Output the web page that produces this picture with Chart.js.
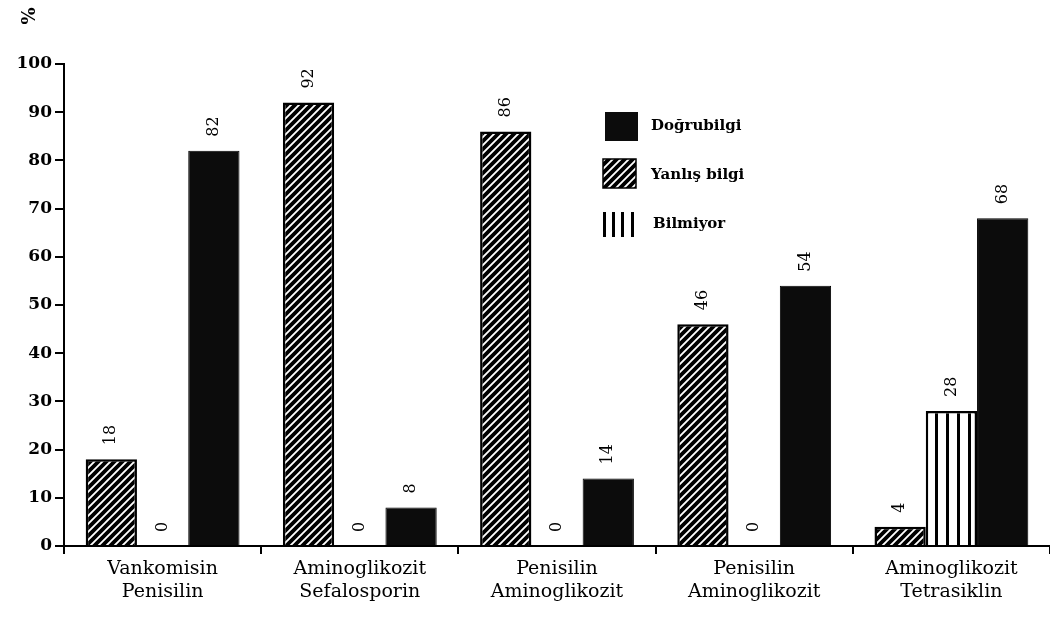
<!DOCTYPE html>
<html>
<head>
<meta charset="utf-8">
<script src="https://cdn.jsdelivr.net/npm/chart.js@4/dist/chart.umd.min.js"></script>
<style>
  html, body { margin: 0; padding: 0; background: #fff; }
  #wrap { width: 1050px; height: 625px; }
</style>
</head>
<body>
<div id="wrap"><canvas id="barChart" width="1050" height="625"></canvas></div>
<script>
// data
const categories = [
    ['Vankomisin', 'Penisilin'],
    ['Aminoglikozit', 'Sefalosporin'],
    ['Penisilin', 'Aminoglikozit'],
    ['Penisilin', 'Aminoglikozit'],
    ['Aminoglikozit', 'Tetrasiklin']
];
const yanlisBilgi = [18, 92, 86, 46, 4];
const bilmiyor = [0, 0, 0, 0, 28];
const dogruBilgi = [82, 8, 14, 54, 68];
const yTicks = [0, 10, 20, 30, 40, 50, 60, 70, 80, 90, 100];

const SERIF = '"DejaVu Serif", "Liberation Serif", serif';

function makePattern(w, h, draw) {
    const c = document.createElement('canvas');
    c.width = w;
    c.height = h;
    const g = c.getContext('2d');
    g.fillStyle = '#fff';
    g.fillRect(0, 0, w, h);
    draw(g);
    return g.createPattern(c, 'repeat');
}

// mostly black with thin white diagonal stripes
const hatch = makePattern(8, 8, g => {
    g.strokeStyle = '#000';
    g.lineWidth = 3.8;
    g.beginPath();
    g.moveTo(-1, 9); g.lineTo(9, -1);
    g.moveTo(-5, 5); g.lineTo(5, -5);
    g.moveTo(3, 13); g.lineTo(13, 3);
    g.stroke();
});
const vlines = makePattern(11, 4, g => {
    g.fillStyle = '#000';
    g.fillRect(0, 0, 3, 4);
});
const solid = '#0c0c0c';

// rotated value labels above every bar
const valueLabels = {
    id: 'valueLabels',
    afterDatasetsDraw(chart) {
        const ctx = chart.ctx;
        ctx.save();
        ctx.fillStyle = '#000';
        ctx.font = '16px ' + SERIF;
        ctx.textAlign = 'left';
        ctx.textBaseline = 'middle';
        chart.data.datasets.forEach((ds, i) => {
            const meta = chart.getDatasetMeta(i);
            meta.data.forEach((bar, j) => {
                ctx.save();
                ctx.translate(bar.x, bar.y - 14);
                ctx.rotate(-Math.PI / 2);
                ctx.fillText(String(ds.data[j]), 0, 0);
                ctx.restore();
            });
        });
        ctx.restore();
    }
};

// legend drawn inside the plot, plus the % unit mark
const sideLegend = {
    id: 'sideLegend',
    afterDraw(chart) {
        const ctx = chart.ctx;
        ctx.save();
        ctx.font = 'bold 15px ' + SERIF;
        ctx.textAlign = 'left';
        ctx.textBaseline = 'middle';

        ctx.fillStyle = solid;
        ctx.fillRect(605, 112, 33, 29);
        ctx.fillStyle = '#000';
        ctx.fillText('Doğrubilgi', 651, 126);

        ctx.fillStyle = hatch;
        ctx.fillRect(603, 159, 33, 29);
        ctx.strokeStyle = '#000';
        ctx.lineWidth = 1.5;
        ctx.strokeRect(603, 159, 33, 29);
        ctx.fillStyle = '#000';
        ctx.fillText('Yanlış bilgi', 651, 175);

        [603, 612, 621, 631].forEach(x => ctx.fillRect(x, 212, 3, 25));
        ctx.fillText('Bilmiyor', 653, 224);

        ctx.translate(30, 16);
        ctx.rotate(-Math.PI / 2);
        ctx.font = 'bold 18px ' + SERIF;
        ctx.textAlign = 'center';
        ctx.fillText('%', 0, 0);
        ctx.restore();
    }
};

document.addEventListener('DOMContentLoaded', function() {
    const barCtx = document.getElementById('barChart').getContext('2d');

    new Chart(barCtx, {
        type: 'bar',
        data: {
            labels: categories,
            datasets: [{
                label: 'Yanlış bilgi',
                data: yanlisBilgi,
                backgroundColor: hatch,
                borderColor: '#000',
                borderWidth: 2.5
            }, {
                label: 'Bilmiyor',
                data: bilmiyor,
                backgroundColor: vlines,
                borderColor: '#000',
                borderWidth: 2.5
            }, {
                label: 'Doğrubilgi',
                data: dogruBilgi,
                backgroundColor: solid,
                borderColor: '#000',
                borderWidth: 1
            }]
        },
        options: {
            responsive: false,
            animation: false,
            layout: { padding: { top: 64, right: 0, left: 0, bottom: 0 } },
            datasets: {
                bar: { barPercentage: 1.0, categoryPercentage: 0.78 }
            },
            scales: {
                x: {
                    offset: true,
                    grid: { offset: true, drawOnChartArea: false, color: '#000', lineWidth: 2, tickLength: 8 },
                    border: { color: '#000', width: 2 },
                    ticks: {
                        color: '#000',
                        font: { family: SERIF, size: 19 },
                        padding: 4,
                        maxRotation: 0,
                        autoSkip: false
                    },
                    afterFit(scale) { scale.height = 79; }
                },
                y: {
                    min: 0,
                    max: 100,
                    afterBuildTicks(scale) { scale.ticks = yTicks.map(v => ({ value: v })); },
                    grid: { drawOnChartArea: false, color: '#000', lineWidth: 2, tickLength: 9 },
                    border: { color: '#000', width: 2 },
                    ticks: {
                        color: '#000',
                        font: { family: SERIF, size: 17, weight: 'bold' },
                        padding: 3
                    },
                    afterFit(scale) { scale.width = 64; }
                }
            },
            plugins: {
                legend: { display: false },
                tooltip: { enabled: false }
            }
        },
        plugins: [valueLabels, sideLegend]
    });
});
</script>
</body>
</html>
